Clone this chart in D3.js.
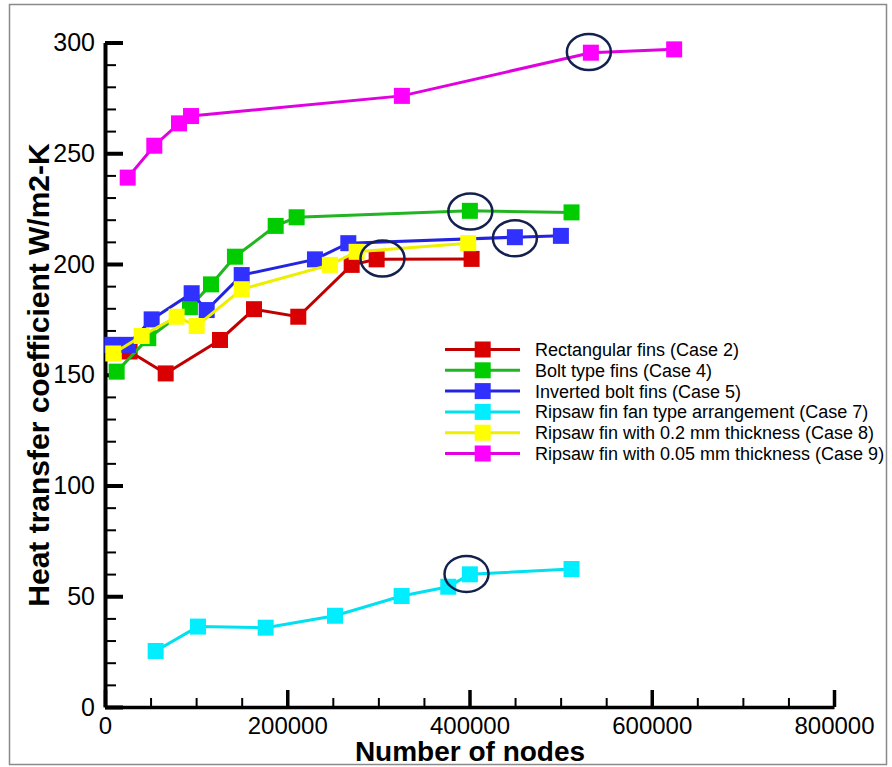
<!DOCTYPE html>
<html>
<head>
<meta charset="utf-8">
<script src="https://cdn.jsdelivr.net/npm/d3@7"></script>
<style>
  html, body { margin: 0; padding: 0; background: #fff; }
  svg { display: block; }
  text { font-family: "Liberation Sans", Arial, sans-serif; }
</style>
</head>
<body>
<svg id="chart" width="892" height="767"></svg>
<script>
// Mesh-independence study: heat transfer coefficient vs number of nodes

const seriesNames = [
  "Rectangular fins (Case 2)",
  "Bolt type fins (Case 4)",
  "Inverted bolt fins (Case 5)",
  "Ripsaw fin fan type arrangement (Case 7)",
  "Ripsaw fin with 0.2 mm thickness (Case 8)",
  "Ripsaw fin with 0.05 mm thickness (Case 9)"
];

const case2Nodes = [27000, 66600, 126200, 163500, 212100, 270700, 298100, 402300];
const case2Htc   = [160.5, 150.6, 165.7, 179.6, 176.2, 199.6, 202.1, 202.3];

const case4Nodes = [12800, 47500, 93200, 116300, 142600, 187300, 210300, 400400, 512000];
const case4Htc   = [151.4, 166.5, 180.5, 190.8, 203.3, 217.2, 221.1, 224.0, 223.3];

const case5Nodes = [8000, 25000, 51200, 95100, 111600, 150000, 230400, 267000, 449800, 500300];
const case5Htc   = [163.5, 163.5, 175.0, 186.8, 179.2, 195.0, 202.1, 209.4, 212.1, 212.7];

const case7Nodes = [55600, 102000, 176300, 252400, 325500, 376700, 400400, 512000];
const case7Htc   = [25.3, 36.3, 35.8, 41.2, 50.1, 54.3, 59.9, 62.3];

const case8Nodes = [9100, 40200, 78600, 100600, 150000, 246800, 276100, 398600];
const case8Htc   = [159.6, 167.5, 176.2, 172.0, 188.6, 199.6, 205.5, 209.4];

const case9Nodes = [24900, 54100, 81200, 94400, 325800, 533200, 624600];
const case9Htc   = [239.0, 253.4, 263.5, 266.8, 275.9, 295.4, 296.9];

// Chosen (converged) mesh for each case, ringed on the plot
const chosenNodes = [304500, 400900, 449800, 396700, 531000];
const chosenHtc   = [202.5, 223.7, 211.6, 60.1, 295.7];

const xTicks = [0, 200000, 400000, 600000, 800000];
const yTicks = [0, 50, 100, 150, 200, 250, 300];

const lineColors   = ["#c00000", "#22b422", "#2424e0", "#00e0f0", "#eeee00", "#e000e0"];
const markerColors = ["#d80000", "#00cc00", "#3030ff", "#00eeff", "#ffff00", "#ff00ff"];

const allNodes = [case2Nodes, case4Nodes, case5Nodes, case7Nodes, case8Nodes, case9Nodes];
const allHtc   = [case2Htc, case4Htc, case5Htc, case7Htc, case8Htc, case9Htc];

const series = seriesNames.map((name, i) => ({
  name,
  line: lineColors[i],
  fill: markerColors[i],
  points: allNodes[i].map((n, j) => ({ x: n, y: allHtc[i][j] }))
}));

const svg = d3.select("#chart");

// outer frame
svg.append("rect")
  .attr("x", 9.5).attr("y", 4.5)
  .attr("width", 877).attr("height", 760)
  .attr("fill", "none")
  .attr("stroke", "#8a8a8a")
  .attr("stroke-width", 1.5);

const x = d3.scaleLinear().domain([0, 800000]).range([105, 834]);
const y = d3.scaleLinear().domain([0, 300]).range([707, 42.5]);

// minor ticks
const xMinor = d3.range(0, 800001, 50000).filter(v => v % 200000 !== 0);
const yMinor = d3.range(0, 301, 10).filter(v => v % 50 !== 0);

svg.append("g")
  .attr("transform", "translate(0,707)")
  .call(d3.axisBottom(x).tickValues(xMinor).tickSize(-9).tickSizeOuter(0).tickFormat(""))
  .call(g => g.select(".domain").remove())
  .call(g => g.selectAll("line").attr("stroke", "#000").attr("stroke-width", 2));

svg.append("g")
  .attr("transform", "translate(105,0)")
  .call(d3.axisLeft(y).tickValues(yMinor).tickSize(-11).tickSizeOuter(0).tickFormat(""))
  .call(g => g.select(".domain").remove())
  .call(g => g.selectAll("line").attr("stroke", "#000").attr("stroke-width", 2));

// major axes
const xAxis = svg.append("g")
  .attr("transform", "translate(0,707)")
  .call(d3.axisBottom(x).tickValues(xTicks).tickSize(-17).tickSizeOuter(0).tickPadding(10).tickFormat(d3.format("d")));
xAxis.select(".domain").attr("stroke", "#000").attr("stroke-width", 3.5);
xAxis.selectAll(".tick line").attr("stroke", "#000").attr("stroke-width", 3.5);
xAxis.selectAll(".tick text")
  .attr("fill", "#000")
  .style("font-size", "24px")
  .style("font-family", "'Liberation Sans', Arial, sans-serif");

const yAxis = svg.append("g")
  .attr("transform", "translate(105,0)")
  .call(d3.axisLeft(y).tickValues(yTicks).tickSize(-18).tickSizeOuter(0).tickPadding(10).tickFormat(d3.format("d")));
yAxis.select(".domain").attr("stroke", "#000").attr("stroke-width", 4);
yAxis.selectAll(".tick line").attr("stroke", "#000").attr("stroke-width", 4);
yAxis.selectAll(".tick text")
  .attr("fill", "#000")
  .style("font-size", "25px")
  .style("font-family", "'Liberation Sans', Arial, sans-serif");

// axis titles
svg.append("text")
  .attr("x", 470).attr("y", 761)
  .attr("text-anchor", "middle")
  .style("font-size", "28px")
  .style("font-weight", "bold")
  .text("Number of nodes");

svg.append("text")
  .attr("transform", "translate(49,375) rotate(-90)")
  .attr("text-anchor", "middle")
  .style("font-size", "30px")
  .style("font-weight", "bold")
  .text("Heat transfer coefficient W/m2-K");

// series lines and markers
const line = d3.line().x(d => x(d.x)).y(d => y(d.y));
const M = 16;

series.forEach(s => {
  const g = svg.append("g");
  g.append("path")
    .datum(s.points)
    .attr("d", line)
    .attr("fill", "none")
    .attr("stroke", s.line)
    .attr("stroke-width", 3);
  g.selectAll("rect")
    .data(s.points)
    .join("rect")
    .attr("x", d => x(d.x) - M / 2)
    .attr("y", d => y(d.y) - M / 2)
    .attr("width", M)
    .attr("height", M)
    .attr("fill", s.fill);
});

// rings around chosen meshes
svg.append("g")
  .selectAll("ellipse")
  .data(chosenNodes.map((n, i) => ({ x: n, y: chosenHtc[i] })))
  .join("ellipse")
  .attr("cx", d => x(d.x))
  .attr("cy", d => y(d.y))
  .attr("rx", 22)
  .attr("ry", 18)
  .attr("fill", "none")
  .attr("stroke", "#14214f")
  .attr("stroke-width", 2.5);

// legend
const legend = svg.append("g").attr("transform", "translate(445,349.5)");
const rowH = 20.8;
series.forEach((s, i) => {
  const row = legend.append("g").attr("transform", `translate(0,${i * rowH})`);
  row.append("line")
    .attr("x1", 0).attr("x2", 75)
    .attr("y1", 0).attr("y2", 0)
    .attr("stroke", s.line)
    .attr("stroke-width", 3);
  row.append("rect")
    .attr("x", 37.7 - 8).attr("y", -8)
    .attr("width", 16).attr("height", 16)
    .attr("fill", s.fill);
  row.append("text")
    .attr("x", 90).attr("y", 6.5)
    .style("font-size", "18px")
    .attr("fill", "#000")
    .text(s.name);
});
</script>
</body>
</html>
